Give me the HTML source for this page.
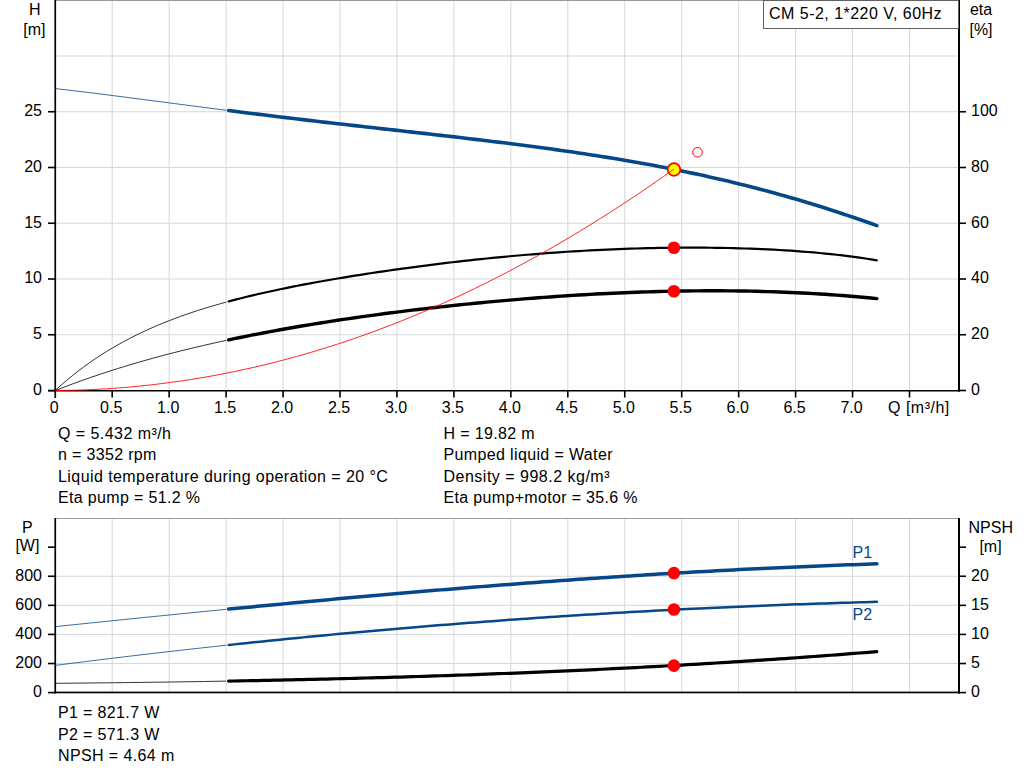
<!DOCTYPE html>
<html><head><meta charset="utf-8"><title>Pump curve</title><style>
html,body{margin:0;padding:0;background:#fff;width:1024px;height:781px;overflow:hidden;}
svg{display:block;}
text{font-family:"Liberation Sans",sans-serif;font-size:16px;fill:#000;}
</style></head><body>
<svg width="1024" height="781" viewBox="0 0 1024 781">
<rect x="0" y="0" width="1024" height="781" fill="#fff"/>
<rect x="111.70" y="1" width="1" height="389" fill="#d5d8db"/>
<rect x="111.70" y="519" width="1" height="173" fill="#d5d8db"/>
<rect x="168.65" y="1" width="1" height="389" fill="#d5d8db"/>
<rect x="168.65" y="519" width="1" height="173" fill="#d5d8db"/>
<rect x="225.60" y="1" width="1" height="389" fill="#d5d8db"/>
<rect x="225.60" y="519" width="1" height="173" fill="#d5d8db"/>
<rect x="282.55" y="1" width="1" height="389" fill="#d5d8db"/>
<rect x="282.55" y="519" width="1" height="173" fill="#d5d8db"/>
<rect x="339.50" y="1" width="1" height="389" fill="#d5d8db"/>
<rect x="339.50" y="519" width="1" height="173" fill="#d5d8db"/>
<rect x="396.45" y="1" width="1" height="389" fill="#d5d8db"/>
<rect x="396.45" y="519" width="1" height="173" fill="#d5d8db"/>
<rect x="453.40" y="1" width="1" height="389" fill="#d5d8db"/>
<rect x="453.40" y="519" width="1" height="173" fill="#d5d8db"/>
<rect x="510.35" y="1" width="1" height="389" fill="#d5d8db"/>
<rect x="510.35" y="519" width="1" height="173" fill="#d5d8db"/>
<rect x="567.30" y="1" width="1" height="389" fill="#d5d8db"/>
<rect x="567.30" y="519" width="1" height="173" fill="#d5d8db"/>
<rect x="624.25" y="1" width="1" height="389" fill="#d5d8db"/>
<rect x="624.25" y="519" width="1" height="173" fill="#d5d8db"/>
<rect x="681.20" y="1" width="1" height="389" fill="#d5d8db"/>
<rect x="681.20" y="519" width="1" height="173" fill="#d5d8db"/>
<rect x="738.15" y="1" width="1" height="389" fill="#d5d8db"/>
<rect x="738.15" y="519" width="1" height="173" fill="#d5d8db"/>
<rect x="795.10" y="1" width="1" height="389" fill="#d5d8db"/>
<rect x="795.10" y="519" width="1" height="173" fill="#d5d8db"/>
<rect x="852.05" y="1" width="1" height="389" fill="#d5d8db"/>
<rect x="852.05" y="519" width="1" height="173" fill="#d5d8db"/>
<rect x="909.00" y="1" width="1" height="389" fill="#d5d8db"/>
<rect x="909.00" y="519" width="1" height="173" fill="#d5d8db"/>
<rect x="56" y="334.25" width="902" height="1" fill="#d5d8db"/>
<rect x="56" y="278.50" width="902" height="1" fill="#d5d8db"/>
<rect x="56" y="222.75" width="902" height="1" fill="#d5d8db"/>
<rect x="56" y="167.00" width="902" height="1" fill="#d5d8db"/>
<rect x="56" y="111.25" width="902" height="1" fill="#d5d8db"/>
<rect x="56" y="55.50" width="902" height="1" fill="#d5d8db"/>
<rect x="56" y="663.02" width="902" height="1" fill="#d5d8db"/>
<rect x="56" y="633.93" width="902" height="1" fill="#d5d8db"/>
<rect x="56" y="604.85" width="902" height="1" fill="#d5d8db"/>
<rect x="56" y="575.76" width="902" height="1" fill="#d5d8db"/>
<rect x="55" y="0" width="904" height="1" fill="#9a9b9d"/>
<rect x="54.4" y="0" width="1.7" height="398" fill="#000"/>
<rect x="958" y="0" width="2" height="391.5" fill="#000"/>
<rect x="48" y="390" width="912" height="1.5" fill="#000"/>
<rect x="48" y="389.70" width="7" height="1.6" fill="#000"/>
<rect x="958" y="389.70" width="8" height="1.6" fill="#000"/>
<rect x="48" y="333.95" width="7" height="1.6" fill="#000"/>
<rect x="958" y="333.95" width="8" height="1.6" fill="#000"/>
<rect x="48" y="278.20" width="7" height="1.6" fill="#000"/>
<rect x="958" y="278.20" width="8" height="1.6" fill="#000"/>
<rect x="48" y="222.45" width="7" height="1.6" fill="#000"/>
<rect x="958" y="222.45" width="8" height="1.6" fill="#000"/>
<rect x="48" y="166.70" width="7" height="1.6" fill="#000"/>
<rect x="958" y="166.70" width="8" height="1.6" fill="#000"/>
<rect x="48" y="110.95" width="7" height="1.6" fill="#000"/>
<rect x="958" y="110.95" width="8" height="1.6" fill="#000"/>
<rect x="111.40" y="390" width="1.6" height="7.5" fill="#000"/>
<rect x="168.35" y="390" width="1.6" height="7.5" fill="#000"/>
<rect x="225.30" y="390" width="1.6" height="7.5" fill="#000"/>
<rect x="282.25" y="390" width="1.6" height="7.5" fill="#000"/>
<rect x="339.20" y="390" width="1.6" height="7.5" fill="#000"/>
<rect x="396.15" y="390" width="1.6" height="7.5" fill="#000"/>
<rect x="453.10" y="390" width="1.6" height="7.5" fill="#000"/>
<rect x="510.05" y="390" width="1.6" height="7.5" fill="#000"/>
<rect x="567.00" y="390" width="1.6" height="7.5" fill="#000"/>
<rect x="623.95" y="390" width="1.6" height="7.5" fill="#000"/>
<rect x="680.90" y="390" width="1.6" height="7.5" fill="#000"/>
<rect x="737.85" y="390" width="1.6" height="7.5" fill="#000"/>
<rect x="794.80" y="390" width="1.6" height="7.5" fill="#000"/>
<rect x="851.75" y="390" width="1.6" height="7.5" fill="#000"/>
<rect x="908.70" y="390" width="1.6" height="7.5" fill="#000"/>
<rect x="55" y="518" width="904" height="1" fill="#9a9b9d"/>
<rect x="54.4" y="518" width="1.7" height="175.5" fill="#000"/>
<rect x="958" y="518" width="2" height="175.5" fill="#000"/>
<rect x="54.4" y="691.6" width="905.6" height="1.7" fill="#000"/>
<rect x="48" y="691.80" width="7" height="1.6" fill="#000"/>
<rect x="958" y="691.80" width="8" height="1.6" fill="#000"/>
<rect x="48" y="662.72" width="7" height="1.6" fill="#000"/>
<rect x="958" y="662.72" width="8" height="1.6" fill="#000"/>
<rect x="48" y="633.63" width="7" height="1.6" fill="#000"/>
<rect x="958" y="633.63" width="8" height="1.6" fill="#000"/>
<rect x="48" y="604.55" width="7" height="1.6" fill="#000"/>
<rect x="958" y="604.55" width="8" height="1.6" fill="#000"/>
<rect x="48" y="575.46" width="7" height="1.6" fill="#000"/>
<rect x="958" y="575.46" width="8" height="1.6" fill="#000"/>
<rect x="48" y="546.38" width="7" height="1.6" fill="#000"/>
<rect x="958" y="546.38" width="8" height="1.6" fill="#000"/>
<g>
<path d="M55.25,88.56 L60.95,89.22 L66.64,89.88 L72.34,90.55 L78.03,91.24 L83.72,91.93 L89.42,92.63 L95.12,93.34 L100.81,94.05 L106.50,94.77 L112.20,95.49 L117.90,96.22 L123.59,96.95 L129.29,97.69 L134.98,98.43 L140.68,99.17 L146.37,99.91 L152.06,100.65 L157.76,101.40 L163.46,102.14 L169.15,102.88 L174.85,103.63 L180.54,104.37 L186.24,105.11 L191.93,105.85 L197.62,106.58 L203.32,107.32 L209.02,108.05 L214.71,108.78 L220.41,109.50 L226.10,110.23" fill="none" stroke="#064789" stroke-width="1" stroke-opacity="0.8"/>
<path d="M228.61,110.55 L234.34,111.27 L240.08,111.99 L245.81,112.71 L251.55,113.42 L257.29,114.13 L263.02,114.83 L268.76,115.54 L274.50,116.23 L280.23,116.93 L285.97,117.62 L291.71,118.30 L297.44,118.99 L303.18,119.66 L308.91,120.34 L314.65,121.01 L320.39,121.68 L326.12,122.35 L331.86,123.01 L337.60,123.67 L343.33,124.33 L349.07,124.98 L354.80,125.63 L360.54,126.28 L366.28,126.93 L372.01,127.58 L377.75,128.23 L383.49,128.87 L389.22,129.52 L394.96,130.16 L400.70,130.81 L406.43,131.45 L412.17,132.10 L417.90,132.74 L423.64,133.39 L429.38,134.04 L435.11,134.69 L440.85,135.35 L446.59,136.00 L452.32,136.66 L458.06,137.33 L463.80,138.00 L469.53,138.67 L475.27,139.35 L481.00,140.03 L486.74,140.72 L492.48,141.42 L498.21,142.12 L503.95,142.83 L509.69,143.55 L515.42,144.27 L521.16,145.01 L526.89,145.75 L532.63,146.50 L538.37,147.26 L544.10,148.04 L549.84,148.82 L555.58,149.62 L561.31,150.43 L567.05,151.25 L572.79,152.08 L578.52,152.92 L584.26,153.78 L589.99,154.66 L595.73,155.55 L601.47,156.45 L607.20,157.37 L612.94,158.31 L618.68,159.26 L624.41,160.23 L630.15,161.22 L635.88,162.23 L641.62,163.25 L647.36,164.29 L653.09,165.35 L658.83,166.44 L664.57,167.54 L670.30,168.66 L676.04,169.81 L681.78,170.97 L687.51,172.16 L693.25,173.37 L698.98,174.60 L704.72,175.86 L710.46,177.14 L716.19,178.44 L721.93,179.77 L727.67,181.12 L733.40,182.49 L739.14,183.89 L744.88,185.32 L750.61,186.77 L756.35,188.25 L762.08,189.75 L767.82,191.28 L773.56,192.84 L779.29,194.42 L785.03,196.04 L790.77,197.67 L796.50,199.34 L802.24,201.03 L807.97,202.76 L813.71,204.51 L819.45,206.28 L825.18,208.09 L830.92,209.92 L836.66,211.79 L842.39,213.68 L848.13,215.60 L853.87,217.55 L859.60,219.52 L865.34,221.53 L871.07,223.56 L876.81,225.63" fill="none" stroke="#064789" stroke-width="3.6" stroke-linecap="round" stroke-linejoin="round"/>
<path d="M55.25,390.43 L60.95,385.30 L66.64,380.40 L72.34,375.71 L78.03,371.22 L83.72,366.93 L89.42,362.83 L95.12,358.90 L100.81,355.15 L106.50,351.55 L112.20,348.11 L117.90,344.82 L123.59,341.66 L129.29,338.64 L134.98,335.74 L140.68,332.97 L146.37,330.30 L152.06,327.75 L157.76,325.30 L163.46,322.94 L169.15,320.68 L174.85,318.50 L180.54,316.40 L186.24,314.39 L191.93,312.44 L197.62,310.57 L203.32,308.76 L209.02,307.02 L214.71,305.33 L220.41,303.70 L226.10,302.12" fill="none" stroke="#000" stroke-width="1" stroke-opacity="0.8"/>
<path d="M228.61,301.44 L234.34,299.93 L240.08,298.45 L245.81,297.03 L251.55,295.64 L257.29,294.29 L263.02,292.98 L268.76,291.70 L274.50,290.46 L280.23,289.25 L285.97,288.07 L291.71,286.91 L297.44,285.78 L303.18,284.68 L308.91,283.60 L314.65,282.54 L320.39,281.51 L326.12,280.49 L331.86,279.50 L337.60,278.52 L343.33,277.56 L349.07,276.62 L354.80,275.70 L360.54,274.79 L366.28,273.90 L372.01,273.02 L377.75,272.16 L383.49,271.32 L389.22,270.49 L394.96,269.67 L400.70,268.87 L406.43,268.08 L412.17,267.31 L417.90,266.55 L423.64,265.80 L429.38,265.07 L435.11,264.35 L440.85,263.64 L446.59,262.95 L452.32,262.27 L458.06,261.61 L463.80,260.96 L469.53,260.32 L475.27,259.70 L481.00,259.09 L486.74,258.50 L492.48,257.92 L498.21,257.36 L503.95,256.81 L509.69,256.27 L515.42,255.75 L521.16,255.25 L526.89,254.76 L532.63,254.29 L538.37,253.83 L544.10,253.38 L549.84,252.96 L555.58,252.55 L561.31,252.15 L567.05,251.77 L572.79,251.41 L578.52,251.06 L584.26,250.73 L589.99,250.41 L595.73,250.12 L601.47,249.83 L607.20,249.57 L612.94,249.32 L618.68,249.09 L624.41,248.87 L630.15,248.68 L635.88,248.50 L641.62,248.33 L647.36,248.19 L653.09,248.06 L658.83,247.94 L664.57,247.85 L670.30,247.77 L676.04,247.72 L681.78,247.67 L687.51,247.65 L693.25,247.65 L698.98,247.66 L704.72,247.69 L710.46,247.75 L716.19,247.82 L721.93,247.91 L727.67,248.02 L733.40,248.15 L739.14,248.30 L744.88,248.48 L750.61,248.67 L756.35,248.89 L762.08,249.13 L767.82,249.40 L773.56,249.68 L779.29,250.00 L785.03,250.34 L790.77,250.71 L796.50,251.10 L802.24,251.53 L807.97,251.98 L813.71,252.47 L819.45,252.99 L825.18,253.54 L830.92,254.13 L836.66,254.76 L842.39,255.42 L848.13,256.13 L853.87,256.88 L859.60,257.68 L865.34,258.52 L871.07,259.41 L876.81,260.36" fill="none" stroke="#000" stroke-width="2.2" stroke-linecap="round" stroke-linejoin="round"/>
<path d="M55.25,390.55 L60.95,388.33 L66.64,386.15 L72.34,384.02 L78.03,381.93 L83.72,379.89 L89.42,377.89 L95.12,375.94 L100.81,374.02 L106.50,372.15 L112.20,370.31 L117.90,368.51 L123.59,366.75 L129.29,365.02 L134.98,363.33 L140.68,361.68 L146.37,360.06 L152.06,358.47 L157.76,356.91 L163.46,355.38 L169.15,353.89 L174.85,352.42 L180.54,350.98 L186.24,349.57 L191.93,348.19 L197.62,346.83 L203.32,345.50 L209.02,344.20 L214.71,342.92 L220.41,341.66 L226.10,340.43" fill="none" stroke="#000" stroke-width="1" stroke-opacity="0.8"/>
<path d="M228.61,339.90 L234.34,338.69 L240.08,337.50 L245.81,336.34 L251.55,335.20 L257.29,334.07 L263.02,332.97 L268.76,331.89 L274.50,330.83 L280.23,329.79 L285.97,328.76 L291.71,327.75 L297.44,326.76 L303.18,325.79 L308.91,324.84 L314.65,323.90 L320.39,322.98 L326.12,322.07 L331.86,321.18 L337.60,320.30 L343.33,319.44 L349.07,318.59 L354.80,317.76 L360.54,316.94 L366.28,316.14 L372.01,315.35 L377.75,314.57 L383.49,313.81 L389.22,313.06 L394.96,312.32 L400.70,311.59 L406.43,310.88 L412.17,310.18 L417.90,309.49 L423.64,308.82 L429.38,308.15 L435.11,307.50 L440.85,306.86 L446.59,306.23 L452.32,305.62 L458.06,305.01 L463.80,304.42 L469.53,303.84 L475.27,303.27 L481.00,302.71 L486.74,302.17 L492.48,301.63 L498.21,301.11 L503.95,300.60 L509.69,300.10 L515.42,299.61 L521.16,299.14 L526.89,298.67 L532.63,298.22 L538.37,297.78 L544.10,297.35 L549.84,296.94 L555.58,296.53 L561.31,296.14 L567.05,295.77 L572.79,295.40 L578.52,295.05 L584.26,294.71 L589.99,294.38 L595.73,294.07 L601.47,293.77 L607.20,293.48 L612.94,293.20 L618.68,292.94 L624.41,292.70 L630.15,292.47 L635.88,292.25 L641.62,292.04 L647.36,291.86 L653.09,291.68 L658.83,291.52 L664.57,291.38 L670.30,291.25 L676.04,291.14 L681.78,291.04 L687.51,290.96 L693.25,290.89 L698.98,290.84 L704.72,290.81 L710.46,290.79 L716.19,290.80 L721.93,290.81 L727.67,290.85 L733.40,290.90 L739.14,290.97 L744.88,291.06 L750.61,291.17 L756.35,291.30 L762.08,291.44 L767.82,291.60 L773.56,291.79 L779.29,291.99 L785.03,292.21 L790.77,292.45 L796.50,292.71 L802.24,292.99 L807.97,293.29 L813.71,293.61 L819.45,293.96 L825.18,294.32 L830.92,294.70 L836.66,295.11 L842.39,295.54 L848.13,295.99 L853.87,296.46 L859.60,296.95 L865.34,297.47 L871.07,298.01 L876.81,298.57" fill="none" stroke="#000" stroke-width="3.4" stroke-linecap="round" stroke-linejoin="round"/>
<path d="M55.25,626.65 L60.95,626.05 L66.64,625.46 L72.34,624.87 L78.03,624.28 L83.72,623.69 L89.42,623.10 L95.12,622.51 L100.81,621.93 L106.50,621.34 L112.20,620.76 L117.90,620.17 L123.59,619.59 L129.29,619.01 L134.98,618.43 L140.68,617.85 L146.37,617.28 L152.06,616.70 L157.76,616.13 L163.46,615.55 L169.15,614.98 L174.85,614.41 L180.54,613.84 L186.24,613.28 L191.93,612.71 L197.62,612.15 L203.32,611.58 L209.02,611.02 L214.71,610.46 L220.41,609.91 L226.10,609.35" fill="none" stroke="#064789" stroke-width="1" stroke-opacity="0.8"/>
<path d="M228.61,609.11 L234.34,608.55 L240.08,607.99 L245.81,607.44 L251.55,606.89 L257.29,606.34 L263.02,605.79 L268.76,605.24 L274.50,604.70 L280.23,604.16 L285.97,603.62 L291.71,603.08 L297.44,602.54 L303.18,602.01 L308.91,601.48 L314.65,600.95 L320.39,600.42 L326.12,599.89 L331.86,599.37 L337.60,598.85 L343.33,598.33 L349.07,597.81 L354.80,597.30 L360.54,596.79 L366.28,596.28 L372.01,595.77 L377.75,595.27 L383.49,594.76 L389.22,594.26 L394.96,593.77 L400.70,593.27 L406.43,592.78 L412.17,592.29 L417.90,591.80 L423.64,591.32 L429.38,590.84 L435.11,590.36 L440.85,589.88 L446.59,589.41 L452.32,588.94 L458.06,588.47 L463.80,588.01 L469.53,587.55 L475.27,587.09 L481.00,586.63 L486.74,586.18 L492.48,585.73 L498.21,585.28 L503.95,584.84 L509.69,584.40 L515.42,583.96 L521.16,583.53 L526.89,583.10 L532.63,582.67 L538.37,582.24 L544.10,581.82 L549.84,581.40 L555.58,580.99 L561.31,580.58 L567.05,580.17 L572.79,579.76 L578.52,579.36 L584.26,578.96 L589.99,578.57 L595.73,578.18 L601.47,577.79 L607.20,577.40 L612.94,577.02 L618.68,576.65 L624.41,576.27 L630.15,575.90 L635.88,575.54 L641.62,575.18 L647.36,574.82 L653.09,574.46 L658.83,574.11 L664.57,573.76 L670.30,573.42 L676.04,573.08 L681.78,572.75 L687.51,572.42 L693.25,572.09 L698.98,571.76 L704.72,571.44 L710.46,571.13 L716.19,570.82 L721.93,570.51 L727.67,570.21 L733.40,569.91 L739.14,569.61 L744.88,569.32 L750.61,569.04 L756.35,568.76 L762.08,568.48 L767.82,568.20 L773.56,567.94 L779.29,567.67 L785.03,567.41 L790.77,567.15 L796.50,566.90 L802.24,566.66 L807.97,566.41 L813.71,566.18 L819.45,565.94 L825.18,565.71 L830.92,565.49 L836.66,565.27 L842.39,565.06 L848.13,564.85 L853.87,564.64 L859.60,564.44 L865.34,564.25 L871.07,564.06 L876.81,563.87" fill="none" stroke="#064789" stroke-width="3.5" stroke-linecap="round" stroke-linejoin="round"/>
<path d="M55.25,665.40 L60.95,664.67 L66.64,663.94 L72.34,663.22 L78.03,662.50 L83.72,661.79 L89.42,661.08 L95.12,660.37 L100.81,659.67 L106.50,658.97 L112.20,658.28 L117.90,657.59 L123.59,656.90 L129.29,656.22 L134.98,655.55 L140.68,654.87 L146.37,654.20 L152.06,653.54 L157.76,652.88 L163.46,652.22 L169.15,651.57 L174.85,650.92 L180.54,650.27 L186.24,649.63 L191.93,648.99 L197.62,648.36 L203.32,647.73 L209.02,647.11 L214.71,646.49 L220.41,645.87 L226.10,645.26" fill="none" stroke="#064789" stroke-width="1" stroke-opacity="0.8"/>
<path d="M228.61,644.99 L234.34,644.38 L240.08,643.77 L245.81,643.17 L251.55,642.57 L257.29,641.98 L263.02,641.39 L268.76,640.80 L274.50,640.22 L280.23,639.64 L285.97,639.06 L291.71,638.50 L297.44,637.93 L303.18,637.37 L308.91,636.81 L314.65,636.26 L320.39,635.71 L326.12,635.16 L331.86,634.62 L337.60,634.08 L343.33,633.55 L349.07,633.02 L354.80,632.50 L360.54,631.98 L366.28,631.46 L372.01,630.95 L377.75,630.44 L383.49,629.93 L389.22,629.43 L394.96,628.94 L400.70,628.45 L406.43,627.96 L412.17,627.47 L417.90,626.99 L423.64,626.52 L429.38,626.05 L435.11,625.58 L440.85,625.12 L446.59,624.66 L452.32,624.20 L458.06,623.75 L463.80,623.30 L469.53,622.86 L475.27,622.42 L481.00,621.99 L486.74,621.56 L492.48,621.13 L498.21,620.71 L503.95,620.29 L509.69,619.87 L515.42,619.46 L521.16,619.06 L526.89,618.66 L532.63,618.26 L538.37,617.87 L544.10,617.48 L549.84,617.09 L555.58,616.71 L561.31,616.33 L567.05,615.96 L572.79,615.59 L578.52,615.22 L584.26,614.86 L589.99,614.51 L595.73,614.15 L601.47,613.80 L607.20,613.46 L612.94,613.12 L618.68,612.78 L624.41,612.45 L630.15,612.12 L635.88,611.80 L641.62,611.48 L647.36,611.16 L653.09,610.85 L658.83,610.54 L664.57,610.24 L670.30,609.94 L676.04,609.64 L681.78,609.35 L687.51,609.06 L693.25,608.78 L698.98,608.50 L704.72,608.22 L710.46,607.95 L716.19,607.69 L721.93,607.42 L727.67,607.16 L733.40,606.91 L739.14,606.66 L744.88,606.41 L750.61,606.17 L756.35,605.93 L762.08,605.70 L767.82,605.46 L773.56,605.24 L779.29,605.02 L785.03,604.80 L790.77,604.58 L796.50,604.37 L802.24,604.17 L807.97,603.97 L813.71,603.77 L819.45,603.57 L825.18,603.38 L830.92,603.20 L836.66,603.02 L842.39,602.84 L848.13,602.67 L853.87,602.50 L859.60,602.33 L865.34,602.17 L871.07,602.01 L876.81,601.86" fill="none" stroke="#064789" stroke-width="2.5" stroke-linecap="round" stroke-linejoin="round"/>
<path d="M55.25,683.32 L60.95,683.27 L66.64,683.22 L72.34,683.16 L78.03,683.11 L83.72,683.05 L89.42,683.00 L95.12,682.94 L100.81,682.88 L106.50,682.82 L112.20,682.75 L117.90,682.69 L123.59,682.62 L129.29,682.55 L134.98,682.48 L140.68,682.41 L146.37,682.34 L152.06,682.26 L157.76,682.19 L163.46,682.11 L169.15,682.03 L174.85,681.95 L180.54,681.86 L186.24,681.78 L191.93,681.69 L197.62,681.60 L203.32,681.51 L209.02,681.42 L214.71,681.32 L220.41,681.23 L226.10,681.13" fill="none" stroke="#000" stroke-width="1" stroke-opacity="0.8"/>
<path d="M228.61,681.08 L234.34,680.98 L240.08,680.88 L245.81,680.77 L251.55,680.66 L257.29,680.55 L263.02,680.44 L268.76,680.32 L274.50,680.21 L280.23,680.09 L285.97,679.96 L291.71,679.84 L297.44,679.72 L303.18,679.59 L308.91,679.46 L314.65,679.32 L320.39,679.19 L326.12,679.05 L331.86,678.91 L337.60,678.77 L343.33,678.62 L349.07,678.48 L354.80,678.33 L360.54,678.17 L366.28,678.02 L372.01,677.86 L377.75,677.70 L383.49,677.54 L389.22,677.38 L394.96,677.21 L400.70,677.04 L406.43,676.87 L412.17,676.69 L417.90,676.51 L423.64,676.33 L429.38,676.15 L435.11,675.96 L440.85,675.77 L446.59,675.58 L452.32,675.38 L458.06,675.19 L463.80,674.99 L469.53,674.78 L475.27,674.58 L481.00,674.37 L486.74,674.16 L492.48,673.94 L498.21,673.72 L503.95,673.50 L509.69,673.28 L515.42,673.05 L521.16,672.82 L526.89,672.59 L532.63,672.35 L538.37,672.11 L544.10,671.87 L549.84,671.62 L555.58,671.37 L561.31,671.12 L567.05,670.86 L572.79,670.60 L578.52,670.34 L584.26,670.08 L589.99,669.81 L595.73,669.54 L601.47,669.26 L607.20,668.98 L612.94,668.70 L618.68,668.41 L624.41,668.12 L630.15,667.83 L635.88,667.53 L641.62,667.23 L647.36,666.93 L653.09,666.62 L658.83,666.31 L664.57,666.00 L670.30,665.68 L676.04,665.36 L681.78,665.04 L687.51,664.71 L693.25,664.37 L698.98,664.04 L704.72,663.70 L710.46,663.35 L716.19,663.01 L721.93,662.66 L727.67,662.30 L733.40,661.94 L739.14,661.58 L744.88,661.21 L750.61,660.84 L756.35,660.47 L762.08,660.09 L767.82,659.70 L773.56,659.32 L779.29,658.93 L785.03,658.53 L790.77,658.13 L796.50,657.73 L802.24,657.32 L807.97,656.91 L813.71,656.50 L819.45,656.08 L825.18,655.65 L830.92,655.23 L836.66,654.79 L842.39,654.36 L848.13,653.92 L853.87,653.47 L859.60,653.02 L865.34,652.57 L871.07,652.11 L876.81,651.65" fill="none" stroke="#000" stroke-width="3.2" stroke-linecap="round" stroke-linejoin="round"/>
</g>
<circle cx="673.95" cy="247.73" r="6.3" fill="#ff0000"/>
<circle cx="673.95" cy="291.18" r="6.3" fill="#ff0000"/>
<circle cx="673.95" cy="169.51" r="6.3" fill="#ffff00" stroke="#ff0000" stroke-width="1.7"/>
<circle cx="697.5" cy="152.3" r="4.8" fill="none" stroke="#ff0000" stroke-width="1"/>
<circle cx="673.95" cy="573.11" r="6.3" fill="#ff0000"/>
<circle cx="673.95" cy="609.52" r="6.3" fill="#ff0000"/>
<circle cx="673.95" cy="665.61" r="6.3" fill="#ff0000"/>
<path d="M55.25,390.50 L65.74,390.40 L76.22,390.17 L86.71,389.82 L97.20,389.34 L107.68,388.73 L118.17,387.99 L128.66,387.13 L139.14,386.14 L149.63,385.03 L160.12,383.78 L170.60,382.42 L181.09,380.96 L191.57,379.37 L202.06,377.66 L212.55,375.82 L223.03,373.85 L233.52,371.75 L244.01,369.53 L254.49,367.18 L264.98,364.71 L275.47,362.10 L285.95,359.37 L296.44,356.52 L306.93,353.53 L317.41,350.42 L327.90,347.18 L338.39,343.82 L348.87,340.33 L359.36,336.71 L369.85,332.96 L380.33,329.09 L390.82,325.09 L401.31,320.96 L411.79,316.71 L422.28,312.33 L432.76,307.82 L443.25,303.19 L453.74,298.43 L464.22,293.54 L474.71,288.52 L485.20,283.38 L495.68,278.11 L506.17,272.72 L516.66,267.19 L527.14,261.54 L537.63,255.76 L548.12,249.86 L558.60,243.83 L569.09,237.67 L579.58,231.39 L590.06,224.97 L600.55,218.44 L611.04,211.77 L621.52,204.98 L632.01,198.06 L642.50,191.01 L652.98,183.84 L663.47,176.53 L673.95,169.11" fill="none" stroke="#ff0000" stroke-width="1" stroke-opacity="0.85"/>
<text x="34.8" y="15" text-anchor="middle">H</text>
<text x="34.3" y="35" text-anchor="middle">[m]</text>
<text x="981" y="15" text-anchor="middle">eta</text>
<text x="981" y="35" text-anchor="middle">[%]</text>
<text x="42" y="395" text-anchor="end">0</text>
<text x="971" y="395" text-anchor="start">0</text>
<text x="42" y="339" text-anchor="end">5</text>
<text x="971" y="339" text-anchor="start">20</text>
<text x="42" y="283" text-anchor="end">10</text>
<text x="971" y="283" text-anchor="start">40</text>
<text x="42" y="228" text-anchor="end">15</text>
<text x="971" y="228" text-anchor="start">60</text>
<text x="42" y="172" text-anchor="end">20</text>
<text x="971" y="172" text-anchor="start">80</text>
<text x="42" y="116" text-anchor="end">25</text>
<text x="971" y="116" text-anchor="start">100</text>
<text x="54.2" y="413" text-anchor="middle">0</text>
<text x="111.2" y="413" text-anchor="middle">0.5</text>
<text x="168.2" y="413" text-anchor="middle">1.0</text>
<text x="225.1" y="413" text-anchor="middle">1.5</text>
<text x="282.1" y="413" text-anchor="middle">2.0</text>
<text x="339.0" y="413" text-anchor="middle">2.5</text>
<text x="396.0" y="413" text-anchor="middle">3.0</text>
<text x="452.9" y="413" text-anchor="middle">3.5</text>
<text x="509.9" y="413" text-anchor="middle">4.0</text>
<text x="566.8" y="413" text-anchor="middle">4.5</text>
<text x="623.8" y="413" text-anchor="middle">5.0</text>
<text x="680.7" y="413" text-anchor="middle">5.5</text>
<text x="737.7" y="413" text-anchor="middle">6.0</text>
<text x="794.6" y="413" text-anchor="middle">6.5</text>
<text x="851.6" y="413" text-anchor="middle">7.0</text>
<text x="888" y="413" text-anchor="start" textLength="61.3" lengthAdjust="spacing">Q [m&#179;/h]</text>
<rect x="763.5" y="0.5" width="195" height="28" fill="#fff" stroke="#606060" stroke-width="1"/>
<text x="769" y="19" text-anchor="start" textLength="172.6" lengthAdjust="spacing">CM 5-2, 1*220 V, 60Hz</text>
<text x="58" y="439" text-anchor="start" textLength="113.0" lengthAdjust="spacing">Q = 5.432 m&#179;/h</text>
<text x="58" y="460" text-anchor="start" textLength="98.4" lengthAdjust="spacing">n = 3352 rpm</text>
<text x="58" y="482" text-anchor="start" textLength="329.8" lengthAdjust="spacing">Liquid temperature during operation = 20 &#176;C</text>
<text x="58" y="503" text-anchor="start" textLength="142.0" lengthAdjust="spacing">Eta pump = 51.2 %</text>
<text x="443.5" y="439" text-anchor="start" textLength="91.2" lengthAdjust="spacing">H = 19.82 m</text>
<text x="443.5" y="460" text-anchor="start" textLength="169.0" lengthAdjust="spacing">Pumped liquid = Water</text>
<text x="443.5" y="482" text-anchor="start" textLength="166.0" lengthAdjust="spacing">Density = 998.2 kg/m&#179;</text>
<text x="443.5" y="503" text-anchor="start" textLength="194.1" lengthAdjust="spacing">Eta pump+motor = 35.6 %</text>
<text x="27.3" y="533" text-anchor="middle">P</text>
<text x="27.4" y="551" text-anchor="middle">[W]</text>
<text x="990.8" y="533" text-anchor="middle">NPSH</text>
<text x="990.5" y="552" text-anchor="middle">[m]</text>
<text x="42" y="697" text-anchor="end">0</text>
<text x="971" y="697" text-anchor="start">0</text>
<text x="42" y="668" text-anchor="end">200</text>
<text x="971" y="668" text-anchor="start">5</text>
<text x="42" y="639" text-anchor="end">400</text>
<text x="971" y="639" text-anchor="start">10</text>
<text x="42" y="610" text-anchor="end">600</text>
<text x="971" y="610" text-anchor="start">15</text>
<text x="42" y="581" text-anchor="end">800</text>
<text x="971" y="581" text-anchor="start">20</text>
<text x="852.5" y="558" text-anchor="start" style="fill:#064789">P1</text>
<text x="852.5" y="620" text-anchor="start" style="fill:#064789">P2</text>
<text x="58" y="718" text-anchor="start" textLength="101.3" lengthAdjust="spacing">P1 = 821.7 W</text>
<text x="58" y="740" text-anchor="start" textLength="101.3" lengthAdjust="spacing">P2 = 571.3 W</text>
<text x="58" y="761" text-anchor="start" textLength="116.3" lengthAdjust="spacing">NPSH = 4.64 m</text>
</svg></body></html>
